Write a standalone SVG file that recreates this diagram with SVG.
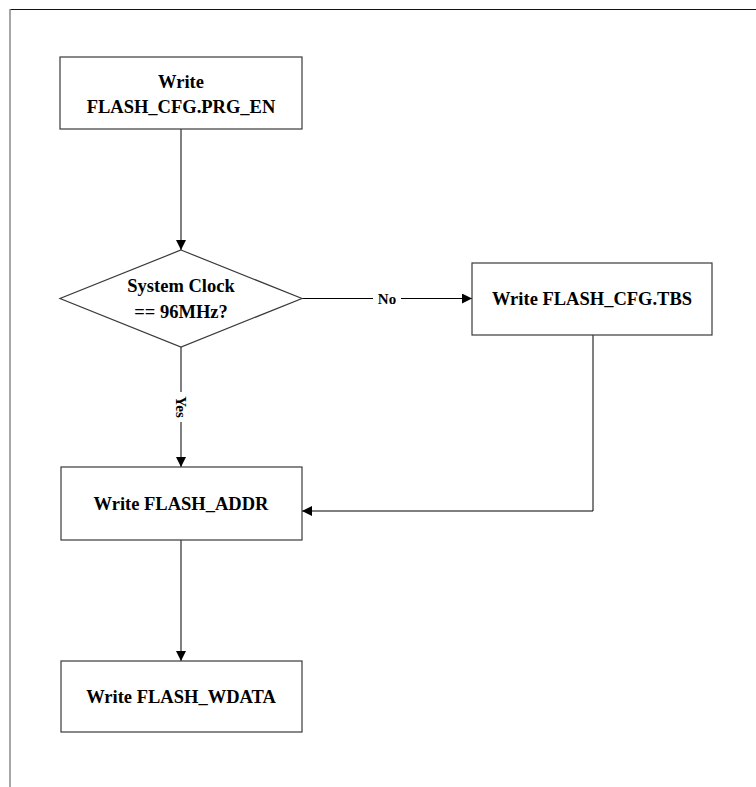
<svg xmlns="http://www.w3.org/2000/svg" width="756" height="787" viewBox="0 0 756 787">
<style>
.box{fill:#fff;stroke:#3a3a3a;stroke-width:1.2}
.t{font-family:"Liberation Serif",serif;font-weight:bold;font-size:18.5px;fill:#000;text-anchor:middle}
.lbl{font-family:"Liberation Serif",serif;font-weight:bold;font-size:15px;fill:#000;text-anchor:middle}
.c{stroke:#000;stroke-width:1;fill:none}
</style>
<defs>
<marker id="ah" viewBox="0 0 10 10" refX="10" refY="5" markerWidth="10" markerHeight="10" markerUnits="userSpaceOnUse" orient="auto">
<path d="M0,0 L10,5 L0,10 Z" fill="#000"/>
</marker>
</defs>
<rect width="756" height="787" fill="#fff"/>
<g id="frame">
<line x1="10" y1="9.5" x2="756" y2="9.5" stroke="#111" stroke-width="1.2"/>
<line x1="10" y1="9" x2="10" y2="787" stroke="#888" stroke-width="1.5"/>
</g>
<g id="connectors">
<line class="c" x1="181" y1="129" x2="181" y2="250" marker-end="url(#ah)"/>
<line class="c" x1="302" y1="298.5" x2="472" y2="298.5" marker-end="url(#ah)"/>
<line class="c" x1="181" y1="347" x2="181" y2="467" marker-end="url(#ah)"/>
<polyline class="c" points="593,335 593,511 302,511" marker-end="url(#ah)"/>
<line class="c" x1="181" y1="540" x2="181" y2="661" marker-end="url(#ah)"/>
<rect x="373" y="290" width="28" height="17" fill="#fff"/>
<text class="lbl" x="387" y="304">No</text>
<rect x="173" y="392" width="17" height="30" fill="#fff"/>
<text class="lbl" transform="translate(176,407) rotate(90)" x="0" y="0">Yes</text>
</g>
<g id="n1">
<rect class="box" x="60" y="57" width="242" height="72"/>
<text class="t" x="181" y="88">Write</text>
<text class="t" x="181" y="113">FLASH_CFG.PRG_EN</text>
</g>
<g id="n2">
<polygon class="box" points="181,250 302,298.5 181,347 60,298.5"/>
<text class="t" x="181" y="292">System Clock</text>
<text class="t" x="181" y="318">== 96MHz?</text>
</g>
<g id="n3">
<rect class="box" x="472" y="263" width="240" height="72"/>
<text class="t" x="592" y="305">Write FLASH_CFG.TBS</text>
</g>
<g id="n4">
<rect class="box" x="61" y="467" width="241" height="73"/>
<text class="t" x="181" y="510">Write FLASH_ADDR</text>
</g>
<g id="n5">
<rect class="box" x="61" y="661" width="241" height="71"/>
<text class="t" x="181" y="703">Write FLASH_WDATA</text>
</g>
</svg>
